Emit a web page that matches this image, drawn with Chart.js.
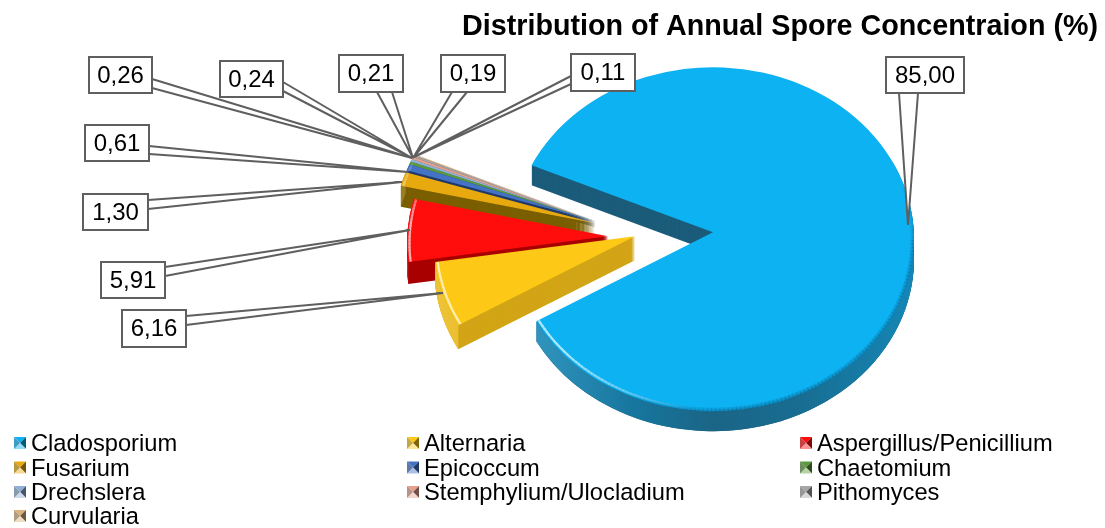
<!DOCTYPE html>
<html><head><meta charset="utf-8">
<style>html,body{margin:0;padding:0;background:#fff}canvas{display:block}</style>
<script src="https://cdn.jsdelivr.net/npm/chart.js@4"></script>
</head><body><canvas id="c" width="1105" height="528"></canvas>
<script>
const categories = ['Cladosporium','Alternaria','Aspergillus/Penicillium','Fusarium','Epicoccum','Chaetomium','Drechslera','Stemphylium/Ulocladium','Pithomyces','Curvularia'];
const shares = [85.00,6.16,5.91,1.30,0.61,0.26,0.24,0.21,0.19,0.11];
const faceColors = ['#0DB2F2','#FDC816','#FF0D0D','#E8A90F','#4472C4','#5A9A3E','#8FB0D8','#E6A08C','#A6A6A6','#D9B27C'];
const cutColors = ['#1B5C7A','#D2A517','#A80000','#7A5F00','#1F3A6B','#2F5A20','#4F6F95','#9A6050','#5A5A5A','#3A3A3A'];

// Exploded-slice styling: shift from the pie centre, extrusion depth, rim tint
const explode = [[63,2],[-15,6],[-42,6],[-55,-7],[-54,-9],[-54,-9],[-54,-9],[-54,-9],[-54,-9],[-54,-9]];
const depths = [20,24,22,21,6,6,6,6,6,6];
const rimTint = [0.45,0.45,0.45,0.85,0.7,0.7,0.7,0.7,0.7,0.7];
const squash = 0.856, apexLift = 7;

// Callout layout: box [x,y,w,h], two base points, tip
const callouts = [
 {box:[886,57,78,36],base:[[899,93],[918,93]],tip:[908,225]},
 {box:[122,310,64,37],base:[[186,316],[186,325]],tip:[443,293]},
 {box:[101,262,64,36],base:[[165,267],[165,276]],tip:[410,230]},
 {box:[83,194,65,36],base:[[148,200],[148,209]],tip:[402,182]},
 {box:[85,125,64,36],base:[[149,146],[149,154]],tip:[408,172]},
 {box:[89,57,63,36],base:[[152,79],[152,88]],tip:[412,158]},
 {box:[220,61,63,36],base:[[283,82],[283,91]],tip:[412,158]},
 {box:[339,55,64,37],base:[[377,92],[392,92]],tip:[413,158]},
 {box:[441,55,64,37],base:[[452,92],[467,92]],tip:[413,158]},
 {box:[571,54,64,37],base:[[571,76],[571,84]],tip:[414,157]}
];
const FONT = '"Liberation Sans", Arial, sans-serif';

function rgb(h){const n=parseInt(h.slice(1),16);return [n>>16,(n>>8)&255,n&255];}
function hex(c){return '#'+c.map(v=>Math.round(v).toString(16).padStart(2,'0')).join('');}
function mixHex(h,t,f){const a=rgb(h),b=rgb(t);return hex(a.map((v,i)=>v+(b[i]-v)*f));}
function mix(h,t,f){return mixHex(h,t,f);}

const pie3d = {
  id:'pie3d',
  beforeDatasetsDraw(chart){
    const ctx = chart.ctx, arcs = chart.getDatasetMeta(0).data;
    const order = [9,8,7,6,5,4,3,2,1,0];
    order.forEach(i=>{
      const arc = arcs[i];
      const {x,y,startAngle:s,endAngle:e,outerRadius:rx} = arc.getProps(['x','y','startAngle','endAngle','outerRadius'],true);
      const ry = rx*squash, ex = x+explode[i][0], ey = y+explode[i][1], D = depths[i];
      const face = faceColors[i], cut = cutColors[i];
      const path = d=>{ctx.beginPath();ctx.moveTo(ex,ey-apexLift+d);ctx.ellipse(ex,ey+d,rx,ry,0,s,e);ctx.closePath();};
      // extruded cut faces
      ctx.fillStyle = cut;
      for(let d=D;d>=1;d--){path(d);ctx.fill();}
      // curved outer wall, shaded across its width
      const a0 = e-s>Math.PI ? 2*Math.PI-0.47 : s;
      const g = ctx.createLinearGradient(ex-rx,0,ex+rx,0);
      g.addColorStop(0,mix(mix(face,cut,rimTint[i]),'#FFFFFF',0.15));
      g.addColorStop(0.3,mix(face,cut,Math.min(1,rimTint[i]+0.25)));
      g.addColorStop(0.5,mix(face,cut,0.9));
      g.addColorStop(0.72,mix(face,cut,0.8));
      g.addColorStop(1,mix(face,cut,0.5));
      ctx.beginPath();
      ctx.ellipse(ex,ey,rx,ry,0,a0,e);
      ctx.ellipse(ex,ey+D,rx,ry,0,e,a0,true);
      ctx.closePath();
      ctx.fillStyle=g;ctx.fill();
      // top face
      path(0);ctx.fillStyle=face;ctx.fill();
      // bevels on the top face
      const step = Math.PI/180*1.2;
      ctx.save();path(0);ctx.clip();
      for(let a=s;a<e;a+=step){
        const b=Math.min(a+step*1.2,e);
        let deg=a*180/Math.PI;deg=((deg%360)+360)%360;
        const dark = (deg<125||deg>340)?Math.min(1,Math.min(deg>340?(deg-340)/30+.0:1,(125-(deg>340?0:deg))/40)):0;
        if(dark>0){
          ctx.strokeStyle='rgba(10,60,100,'+(0.16*dark)+')';
          ctx.lineWidth=7;ctx.beginPath();ctx.ellipse(ex,ey,rx,ry,0,a,b);ctx.stroke();
          ctx.lineWidth=3.5;ctx.beginPath();ctx.ellipse(ex,ey,rx,ry,0,a,b);ctx.stroke();
        }
        const lit = deg>95&&deg<205 ? Math.min(1,(deg-95)/45,(205-deg)/20) : 0;
        if(lit>0){
          ctx.globalAlpha=lit*0.95;
          ctx.strokeStyle=mix(face,'#FFFFFF',0.7);
          ctx.lineWidth=2.2;ctx.beginPath();ctx.ellipse(ex,ey,rx-2.5,ry-2.5,0,a,b);ctx.stroke();
          ctx.globalAlpha=1;
        }
      }
      ctx.restore();
    });
    return false;
  },
  afterDraw(chart){
    const ctx = chart.ctx;
    ctx.save();
    callouts.forEach((c,i)=>{
      const [bx,by,bw,bh]=c.box;
      ctx.beginPath();ctx.moveTo(c.base[0][0],c.base[0][1]);ctx.lineTo(c.tip[0],c.tip[1]);ctx.lineTo(c.base[1][0],c.base[1][1]);ctx.closePath();
      ctx.fillStyle='#fff';ctx.fill();
      ctx.strokeStyle='#5F5F5F';ctx.lineWidth=2;ctx.lineJoin='miter';
      ctx.beginPath();ctx.moveTo(c.base[0][0],c.base[0][1]);ctx.lineTo(c.tip[0],c.tip[1]);ctx.lineTo(c.base[1][0],c.base[1][1]);ctx.stroke();
      ctx.fillStyle='#fff';ctx.fillRect(bx,by,bw,bh);
      ctx.lineWidth=2;ctx.strokeRect(bx,by,bw,bh);
      ctx.fillStyle='#000';ctx.font='24px '+FONT;ctx.textAlign='center';ctx.textBaseline='middle';
      ctx.fillText(shares[i].toFixed(2).replace('.',','),bx+bw/2,by+bh/2+1);
    });
    ctx.restore();
  },
  beforeDraw(chart){
    const legend = chart.legend;
    legend.draw = function(){
      const ctx = chart.ctx, items = legend.legendItems || [];
      const colX=[14,407,800], rowY=[443,467.5,492,516];
      ctx.save();
      items.forEach((it,i)=>{
        const x=colX[i%3], y=rowY[Math.floor(i/3)], m=12, c=it.fillStyle, top=y-6;
        const tri=(ax,ay,bx,by,col)=>{ctx.beginPath();ctx.moveTo(ax,ay);ctx.lineTo(bx,by);ctx.lineTo(x+m/2,top+m/2);ctx.closePath();ctx.fillStyle=col;ctx.fill();};
        tri(x,top,x+m,top,c);
        tri(x+m,top,x+m,top+m,mix(c,'#000000',0.5));
        tri(x+m,top+m,x,top+m,mix(c,'#FFFFFF',0.55));
        tri(x,top+m,x,top,mix(c,'#808080',0.45));
        ctx.fillStyle='#000';ctx.font='23.7px '+FONT;ctx.textAlign='left';ctx.textBaseline='alphabetic';
        ctx.fillText(it.text,x+17,y+8);
      });
      ctx.restore();
    };
  }
};

new Chart(document.getElementById('c'),{
  type:'pie',
  data:{labels:categories,datasets:[{data:shares,backgroundColor:faceColors,borderWidth:0}]},
  options:{
    responsive:false,animation:false,
    radius:201,rotation:295.5,
    layout:{padding:{left:202,right:7,top:8,bottom:106}},
    plugins:{
      title:{display:true,text:'Distribution of Annual Spore Concentraion (%)',align:'end',color:'#000',
             font:{family:FONT,size:28.7,weight:'bold'},padding:{top:2,bottom:8}},
      legend:{display:true,position:'chartArea'},
      tooltip:{enabled:false}
    }
  },
  plugins:[pie3d]
});
</script></body></html>
